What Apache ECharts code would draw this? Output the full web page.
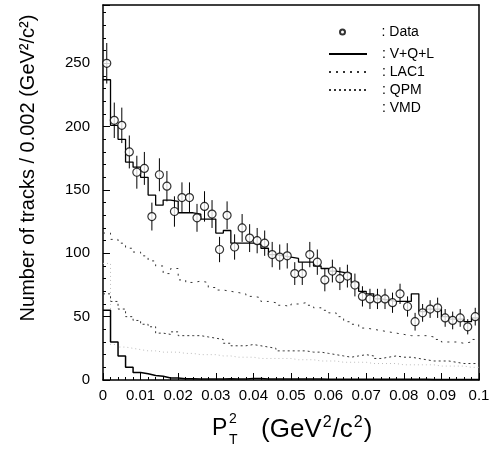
<!DOCTYPE html>
<html>
<head>
<meta charset="utf-8">
<script src="https://cdn.jsdelivr.net/npm/echarts@6/dist/echarts.min.js"></script>
<style>
html,body{margin:0;padding:0;background:#fff;}
#chart{width:495px;height:450px;}
</style>
</head>
<body>
<div id="chart"></div>
<script>
// ---- data (50 bins of width 0.002 GeV^2/c^2) ----
const binWidth = 0.002;
const xTicks = [0, 0.01, 0.02, 0.03, 0.04, 0.05, 0.06, 0.07, 0.08, 0.09, 0.1];
const yTicks = [0, 50, 100, 150, 200, 250];

const dataCounts = [250,205,201,180,164,167,129,162,153,133,144,144,128,137,131,103,130,105,120,112,
                    110,108,99,97,98,84,84,99,93,79,86,80,82,75,66,64,64,64,61,68,
                    58,46,53,56,57,49,47,49,42,50];
const dataErrors = [16,14,14,13,13,13,11,13,12,12,12,12,11,12,11,10,11,10,11,11,
                    10,10,10,10,10,9,9,10,10,9,9,9,9,9,8,8,8,8,8,8,
                    8,7,7,7,8,7,7,7,6,7];
const vqlTotal   = [237,201,190,172,168,160,146,138,142,141,132,132,131,127,127,116,118,108,108,108,
                    107,104,99,98,97,96,93,93,90,88,86,85,84,77,70,68,64,63,62,62,
                    62,68,54,56,56,50,48,48,46,49];
const lac1       = [116,111,108,104,101,98,94,90,84,88,79,77,78,77,73,71,70,69,68,66,
                    65,62,61,59,58,60,61,59,57,55,53,50,46,44,41,40,39,38,37,36,
                    35,35,35,34,32,30,30,29,30,32];
const qpm        = [68,62,56,50,47,44,42,37,36,38,35,35,35,34,33,32,29,27,27,28,
                    27,26,25,23,23,23,23,22,22,21,20,19,18,19,20,19,17,18,19,18,
                    18,17,16,15,15,15,14,13,13,13];
const vmd        = [55,30,19,10,6,5,3.5,3,1.5,1.5,1,1,0.8,0.8,0.8,0.8,1,0.8,0.8,1.2,
                    1.2,0.8,0.8,0.8,0.7,0.7,0.7,0.7,0.7,0.6,0.6,0.6,0.6,0.6,0.5,0.5,0.5,0.5,0.5,0.5,
                    0.5,0.5,0.5,0.4,0.4,0.4,0.4,0.4,0.4,0.4];
const faintModel = [92,28,26,25,24,23,23,22,22,22,21,21,20,20,20,19,19,18,18,18,
                    17,17,17,17,17,16,16,16,15,15,15,14,14,14,14,13,13,13,13,12,
                    12,12,12,12,11,11,11,11,10,10];

// ---- build helpers ----
function stepData(vals){
  const out = vals.map((v,i)=>[i*binWidth, v]);
  out.push([vals.length*binWidth, vals[vals.length-1]]);
  return out;
}
const centers = dataCounts.map((v,i)=>(i+0.5)*binWidth);
const pointData = dataCounts.map((v,i)=>[centers[i], v]);
const errData = dataCounts.map((v,i)=>[centers[i], v-dataErrors[i], v+dataErrors[i]]);

const FONT = '"Liberation Sans", Arial, Helvetica, sans-serif';
const chart = echarts.init(document.getElementById('chart'), null, {renderer:'canvas'});

const stepSeries = (name, vals, style, z) => ({
  name, type:'line', step:'end', data: stepData(vals),
  symbol:'none', showSymbol:false, lineStyle: style,
  itemStyle:{color: style.color, opacity:0}, z: z||2,
  animation:false, silent:true
});

chart.setOption({
  animation:false,
  backgroundColor:'#fff',
  grid:{left:103, right:16, top:5, bottom:70},
  xAxis:[{
    type:'value', min:xTicks[0], max:xTicks[xTicks.length-1], interval:0.01, position:'bottom',
    axisLine:{show:true, onZero:false, lineStyle:{color:'#000', width:1.5}},
    axisTick:{show:true, inside:true, length:7, lineStyle:{color:'#000', width:1}},
    minorTick:{show:true, splitNumber:5, length:3, lineStyle:{color:'#000', width:1}},
    splitLine:{show:false},
    axisLabel:{color:'#000', fontFamily:FONT, fontSize:15, margin:8,
      formatter:v=>{const r=Math.round(v*100)/100; return r===0?'0':String(r);}}
  },{
    type:'value', min:0, max:0.1, position:'top',
    axisLine:{show:true, onZero:false, lineStyle:{color:'#000', width:1.5}},
    axisTick:{show:false}, axisLabel:{show:false}, splitLine:{show:false}
  }],
  yAxis:[{
    type:'value', min:0, max:296, interval:50, position:'left',
    axisLine:{show:true, onZero:false, lineStyle:{color:'#000', width:1.5}},
    axisTick:{show:true, inside:true, length:7, lineStyle:{color:'#000', width:1}},
    minorTick:{show:true, splitNumber:5, length:3, lineStyle:{color:'#000', width:1}},
    splitLine:{show:false},
    axisLabel:{color:'#000', fontFamily:FONT, fontSize:15, margin:13, showMaxLabel:false,
      formatter:v=> yTicks.indexOf(v)>=0 ? String(v) : ''}
  },{
    type:'value', min:0, max:296, position:'right',
    axisLine:{show:true, onZero:false, lineStyle:{color:'#000', width:1.5}},
    axisTick:{show:false}, axisLabel:{show:false}, splitLine:{show:false}
  }],
  legend:[{
    data:['Data'], orient:'vertical', left:334, top:20,
    itemWidth:38, itemHeight:5,
    formatter:': {name}',
    textStyle:{color:'#000', fontFamily:FONT, fontSize:14, padding:[0,0,0,15]}
  },{
    data:['V+Q+L','LAC1','QPM',{name:'VMD', lineStyle:{opacity:0}, itemStyle:{opacity:0}}],
    orient:'vertical', left:323, top:42,
    itemWidth:38, itemHeight:12, itemGap:4,
    itemStyle:{opacity:0},
    formatter:': {name}',
    textStyle:{color:'#000', fontFamily:FONT, fontSize:14, padding:[0,0,0,10]}
  }],
  graphic:[
    {type:'text', x:28, y:168, rotation:Math.PI/2,
     style:{text:'Number of tracks / 0.002 (GeV\u00B2/c\u00B2)', font:'20px '+FONT, fill:'#000',
            align:'center', verticalAlign:'middle'}},
    {type:'text', x:212, y:429, style:{text:'P', font:'23px '+FONT, fill:'#000', verticalAlign:'middle'}},
    {type:'text', x:229, y:419, style:{text:'2', font:'14px '+FONT, fill:'#000', verticalAlign:'middle'}},
    {type:'text', x:229, y:440, style:{text:'T', font:'14px '+FONT, fill:'#000', verticalAlign:'middle'}},
    {type:'text', x:261, y:429, style:{
      text:'{b|(GeV}{s|2}{b|/c}{s|2}{b|)}', verticalAlign:'middle',
      rich:{
        b:{font:'26px '+FONT, fill:'#000', color:'#000', lineHeight:28, verticalAlign:'bottom'},
        s:{font:'16px '+FONT, fill:'#000', color:'#000', lineHeight:28, verticalAlign:'top', padding:[0,1,0,1]}
      }}}
  ],
  series:[
    stepSeries('faint', faintModel, {color:'#bdbdbd', width:1, type:[1,3]}, 1),
    stepSeries('LAC1', lac1, {color:'#333', width:1, type:[2,5]}, 2),
    stepSeries('QPM', qpm, {color:'#333', width:1, type:[2,3]}, 2),
    stepSeries('VMD', vmd, {color:'#000', width:1.5}, 3),
    stepSeries('V+Q+L', vqlTotal, {color:'#000', width:1.3}, 3),
    {
      name:'errors', type:'custom', data: errData, z:4, silent:true,
      encode:{x:0, y:[1,2]},
      renderItem:(params, api)=>{
        const p1 = api.coord([api.value(0), api.value(1)]);
        const p2 = api.coord([api.value(0), api.value(2)]);
        return {type:'line', shape:{x1:p1[0], y1:p1[1], x2:p2[0], y2:p2[1]},
                style:{stroke:'#000', lineWidth:1}};
      }
    },
    {
      name:'Data', type:'scatter', data: pointData, symbol:'circle', symbolSize:8, z:5,
      itemStyle:{color:'#fff', borderColor:'#000', borderWidth:1.2}, silent:true
    }
  ]
});
</script>
</body>
</html>
